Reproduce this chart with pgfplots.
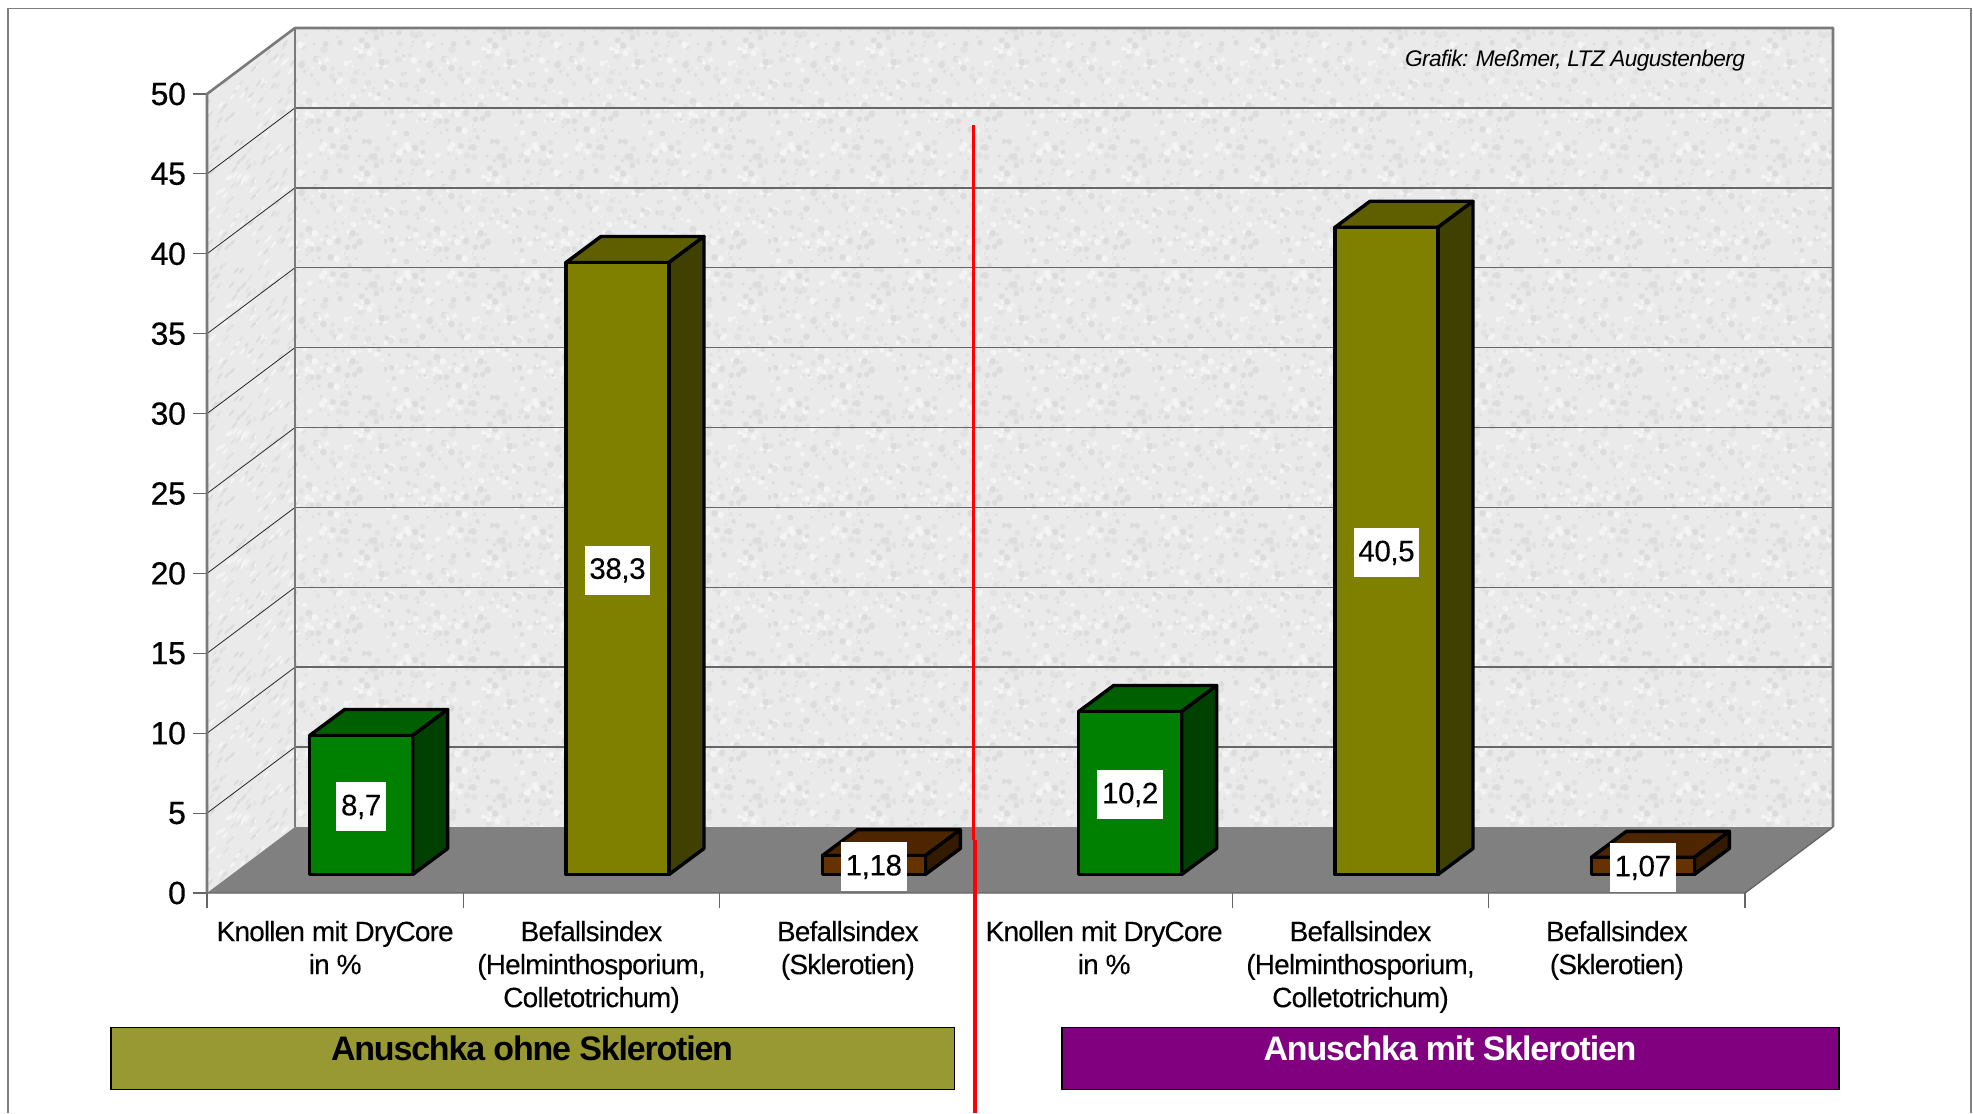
\documentclass[border=0pt]{standalone}
\usepackage{pgfplots}
\pgfplotsset{compat=1.18}
\usepackage{fontspec}
\usetikzlibrary{patterns}
\setmainfont{Liberation Sans}
\newfontfamily\tickfont[LetterSpace=-1,FakeBold=0.4]{Liberation Sans}
\newfontfamily\catfont[LetterSpace=-3,FakeBold=0.1]{Liberation Sans}
\newfontfamily\valfont[LetterSpace=-1.5,FakeBold=0.15]{Liberation Sans}
\newfontfamily\headfont[LetterSpace=-3.5]{Liberation Sans Bold}
\newfontfamily\creditfont[LetterSpace=-2.5]{Liberation Sans Italic}

\definecolor{wallbase}{HTML}{EAEAEA}
\definecolor{floorgray}{HTML}{808080}
\definecolor{edgegray}{HTML}{7A7A7A}
\definecolor{gridgray}{HTML}{666666}
\definecolor{grA}{HTML}{008000}\definecolor{grB}{HTML}{005F00}\definecolor{grC}{HTML}{004000}
\definecolor{olA}{HTML}{808000}\definecolor{olB}{HTML}{5F5F00}\definecolor{olC}{HTML}{404000}
\definecolor{brA}{HTML}{663300}\definecolor{brB}{HTML}{4D2600}\definecolor{brC}{HTML}{331A00}
\definecolor{boxolive}{HTML}{999933}
\definecolor{boxpurple}{HTML}{800080}

% Mottled wall surfaces: deterministic speckle tiles
\newcommand\speckcolour[1]{%
  \ifnum#1=0 \pgfsetfillcolor{speckA}\fi
  \ifnum#1=1 \pgfsetfillcolor{speckB}\fi
  \ifnum#1=2 \pgfsetfillcolor{speckC}\fi}
\definecolor{speckA}{HTML}{DCDCDC}
\definecolor{speckB}{HTML}{F4F4F4}
\definecolor{speckC}{HTML}{E2E2E2}
\newcommand\speckplace{%
  \pgfmathsetmacro\sx{mod(\i*17.31,64)}%
  \edef\sq{\the\numexpr \i*\i - 173*((\i*\i-86)/173)\relax}%
  \pgfmathsetmacro\sy{mod(\sq*0.37+\i*9.13,64)}%
  \pgfmathtruncatemacro\ss{mod(\i,3)}%
  \speckcolour{\ss}}
\pgfdeclarepatterninherentlycolored{wallgrain}
  {\pgfqpoint{0pt}{0pt}}{\pgfqpoint{64pt}{64pt}}{\pgfqpoint{64pt}{64pt}}{%
  \foreach \i in {1,...,210}{%
    \speckplace
    \pgfmathsetmacro\sr{0.7+mod(\i*7,5)*0.25}%
    \pgfpathcircle{\pgfqpoint{\sx pt}{\sy pt}}{\sr pt}%
    \pgfusepath{fill}%
  }}
\pgfdeclarepatterninherentlycolored{sidegrain}
  {\pgfqpoint{0pt}{0pt}}{\pgfqpoint{64pt}{64pt}}{\pgfqpoint{64pt}{64pt}}{%
  \foreach \i in {1,...,170}{%
    \speckplace
    \pgfpathellipse{\pgfqpoint{\sx pt}{\sy pt}}{\pgfqpoint{1.3pt}{1.6pt}}{\pgfqpoint{-0.5pt}{0.4pt}}%
    \pgfusepath{fill}%
  }}

% Depth of the chart box in axis units (x: categories, y: percent)
\def\dX{0.3433}
\def\dY{4.13}

% Grid level on both walls
\newcommand\gridlevel[1]{%
  \pgfmathsetmacro\gy{#1+\dY}%
  \addplot[black!85,line width=0.4pt] coordinates {(0,#1) (\dX,\gy)};
  \addplot[gridgray,line width=0.75pt] coordinates {(\dX,\gy) (6+\dX,\gy)};
}

% Block with front, top and side faces: centre, value, shown value, three colours
\newcommand\block[6]{%
  \pgfmathsetmacro\xL{#1+0.1014-0.2009}%
  \pgfmathsetmacro\xR{#1+0.1014+0.2009}%
  \pgfmathsetmacro\xLb{\xL+0.1365}%
  \pgfmathsetmacro\xRb{\xR+0.1365}%
  \pgfmathsetmacro\yB{1.158}%
  \pgfmathsetmacro\yT{\yB+#2}%
  \pgfmathsetmacro\yBb{\yB+1.627}%
  \pgfmathsetmacro\yTb{\yT+1.627}%
  \pgfmathsetmacro\xC{(\xL+\xR)/2}%
  \pgfmathsetmacro\yC{(\yB+\yT)/2-0.12}%
  \addplot[fill=#5,draw=black,line width=1.7pt,line join=round] coordinates {(\xL,\yT) (\xLb,\yTb) (\xRb,\yTb) (\xR,\yT)} --cycle;
  \addplot[fill=#6,draw=black,line width=1.7pt,line join=round] coordinates {(\xR,\yB) (\xRb,\yBb) (\xRb,\yTb) (\xR,\yT)} --cycle;
  \addplot[fill=#4,draw=black,line width=1.7pt,line join=round] coordinates {(\xL,\yB) (\xR,\yB) (\xR,\yT) (\xL,\yT)} --cycle;
  \edef\valuebox{\noexpand\node[fill=white,inner xsep=2.4pt,inner ysep=0pt,minimum height=24.5pt,font=\noexpand\fontsize{14.8}{16}\noexpand\valfont] at (axis cs:\xC,\yC) {#3};}%
  \valuebox
}

\begin{document}
\begin{tikzpicture}
\path[use as bounding box] (0,0) rectangle (986.5pt,556.5pt);
\begin{scope}[shift={(0,556.5pt)},x=0.5pt,y=-0.5pt]
  \draw[gray,line width=0.9pt] (8,1113) -- (8,8.5) -- (1971,8.5) -- (1971,1113);
\end{scope}

\begin{axis}[
  at={(103.5pt,110pt)},anchor=south west,
  scale only axis,width=769pt,height=399.5pt,
  xmin=0,xmax=6,ymin=0,ymax=50,
  clip=false,
  axis line style={draw=none},
  tick align=outside,
  xtick pos=bottom,ytick pos=left,
  ytick={0,5,...,50},
  xtick={0.5,1.5,2.5,3.5,4.5,5.5},
  xticklabels={
    {Knollen mit DryCore\\in \%},
    {Befallsindex\\(Helminthosporium,\\Colletotrichum)},
    {Befallsindex\\(Sklerotien)},
    {Knollen mit DryCore\\in \%},
    {Befallsindex\\(Helminthosporium,\\Colletotrichum)},
    {Befallsindex\\(Sklerotien)}},
  x tick label style={align=center,anchor=north,yshift=-3.4pt,
    font=\fontsize{14}{16.5}\catfont},
  major x tick style={draw=none},
  minor xtick={0,1,2,3,4,5,6},
  minor tick length=7.5pt,
  major tick length=7pt,
  minor x tick style={draw=gridgray,line width=0.6pt},
  major y tick style={draw=gridgray,line width=0.6pt},
  y tick label style={font=\fontsize{16}{17}\tickfont,xshift=0pt},
  /pgf/number format/assume math mode=true,
]
% Walls and floor of the chart box
\addplot[draw=none,fill=wallbase] coordinates {(0,0) (0,50) (\dX,50+\dY) (\dX,\dY)} --cycle;
\addplot[draw=none,pattern=sidegrain] coordinates {(0,0) (0,50) (\dX,50+\dY) (\dX,\dY)} --cycle;
\addplot[draw=none,fill=wallbase] coordinates {(\dX,\dY) (\dX,50+\dY) (6+\dX,50+\dY) (6+\dX,\dY)} --cycle;
\addplot[draw=none,pattern=wallgrain] coordinates {(\dX,\dY) (\dX,50+\dY) (6+\dX,50+\dY) (6+\dX,\dY)} --cycle;
\addplot[draw=none,fill=floorgray] coordinates {(0,0) (6,0) (6+\dX,\dY) (\dX,\dY)} --cycle;

\gridlevel{5}\gridlevel{10}\gridlevel{15}\gridlevel{20}\gridlevel{25}
\gridlevel{30}\gridlevel{35}\gridlevel{40}\gridlevel{45}

% Box edges
\addplot[edgegray,line width=1.3pt,line join=round] coordinates {(0,0) (0,50) (\dX,50+\dY) (6+\dX,50+\dY) (6+\dX,\dY)};
\addplot[edgegray,line width=1.3pt] coordinates {(\dX,\dY) (\dX,50+\dY)};
\addplot[gridgray,line width=0.7pt] coordinates {(0,0) (6,0) (6+\dX,\dY)};

% Results per category
\block{0.5}{8.7}{8,7}{grA}{grB}{grC}
\block{1.5}{38.3}{38,3}{olA}{olB}{olC}
\block{2.5}{1.18}{1,18}{brA}{brB}{brC}
\block{3.5}{10.2}{10,2}{grA}{grB}{grC}
\block{4.5}{40.5}{40,5}{olA}{olB}{olC}
\block{5.5}{1.07}{1,07}{brA}{brB}{brC}
\end{axis}

\begin{scope}[shift={(0,556.5pt)},x=0.5pt,y=-0.5pt]
  \node[font=\fontsize{11.3}{13}\creditfont,anchor=east] at (1752,61) {Grafik: Meßmer, LTZ Augustenberg};
  \draw[black,line width=0.9pt,fill=boxolive] (111,1027.5) rectangle (954.5,1089.5);
  \draw[black,line width=0.9pt,fill=boxpurple] (1062,1027.5) rectangle (1839,1089.5);
  \node[font=\fontsize{17}{19}\headfont,text=black] at (532,1048) {Anuschka ohne Sklerotien};
  \node[font=\fontsize{17}{19}\headfont,text=white] at (1450,1048) {Anuschka mit Sklerotien};
  \draw[red,line width=1.8pt] (973.5,125) -- (973.5,840);
  \draw[red,line width=1.8pt] (975,840) -- (975,1113);
\end{scope}
\end{tikzpicture}
\end{document}
